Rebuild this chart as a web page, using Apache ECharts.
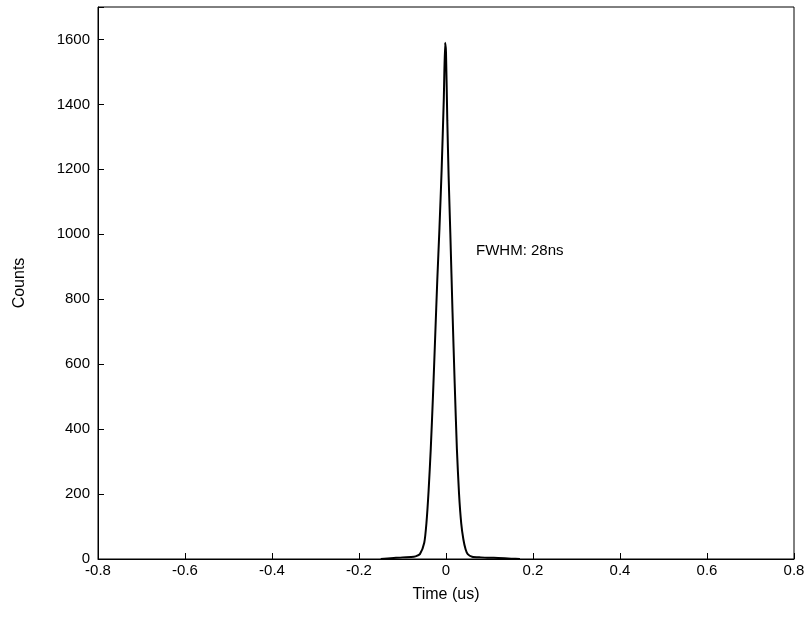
<!DOCTYPE html>
<html><head><meta charset="utf-8">
<script src="https://cdn.jsdelivr.net/npm/echarts@6/dist/echarts.min.js"></script>
<style>html,body{margin:0;background:#fff}#main{width:811px;height:621px}</style>
</head><body><div id="main"></div>
<script>
var timeUs = [-0.15,-0.12,-0.1,-0.08,-0.07,-0.06,-0.05,-0.045,-0.04,-0.035,-0.03,-0.025,-0.02,-0.015,-0.01,-0.005,-0.002,0,0.003,0.006,0.01,0.015,0.02,0.025,0.03,0.035,0.04,0.045,0.05,0.06,0.08,0.1,0.12,0.15,0.17];
var counts = [0,3,5,6,8,15,50,110,210,340,500,680,860,1020,1200,1420,1590,1560,1350,1180,1000,760,540,340,200,110,60,30,15,7,5,4,3,1,0];
var xTicks = [-0.8,-0.6,-0.4,-0.2,0,0.2,0.4,0.6,0.8];

var font = 'Liberation Sans, Arial, sans-serif';
var myChart = echarts.init(document.getElementById('main'));
var option = {
    animation: false,
    grid: { left: 98, right: 17, top: 7, bottom: 62, show: true, borderColor: '#000', borderWidth: 1 },
    xAxis: {
        type: 'value', min: -0.8, max: 0.8, interval: 0.2,
        name: 'Time (us)', nameLocation: 'middle', nameGap: 28,
        nameTextStyle: { color: '#000', fontSize: 16, fontFamily: font },
        axisLine: { onZero: false, lineStyle: { color: '#000' } },
        axisTick: { inside: true, length: 6, lineStyle: { color: '#000' } },
        axisLabel: { color: '#000', fontSize: 15, fontFamily: font, margin: 4,
            formatter: function (v) { return xTicks.indexOf(+v.toFixed(1)) >= 0 ? +v.toFixed(1) + '' : ''; } },
        splitLine: { show: false }
    },
    yAxis: {
        type: 'value', min: 0, max: 1700, interval: 200,
        name: 'Counts', nameLocation: 'middle', nameGap: 70,
        nameTextStyle: { color: '#000', fontSize: 16, fontFamily: font },
        axisLine: { onZero: false, lineStyle: { color: '#000' } },
        axisTick: { inside: true, length: 6, lineStyle: { color: '#000' } },
        axisLabel: { color: '#000', fontSize: 15, fontFamily: font, margin: 8,
            formatter: function (v) { return v > 1600 ? '' : v; } },
        splitLine: { show: false }
    },
    series: [{
        type: 'line', showSymbol: false, smooth: 0.2,
        data: timeUs.map(function (t, i) { return [t, counts[i]]; }),
        lineStyle: { color: '#000', width: 2 },
        markPoint: {
            symbol: 'circle', symbolSize: 0,
            data: [{ coord: [0.069, 950], label: { show: true, formatter: 'FWHM: 28ns', position: 'right', distance: 0, color: '#000', fontSize: 15, fontFamily: font } }]
        }
    }]
};
myChart.setOption(option);
</script></body></html>
